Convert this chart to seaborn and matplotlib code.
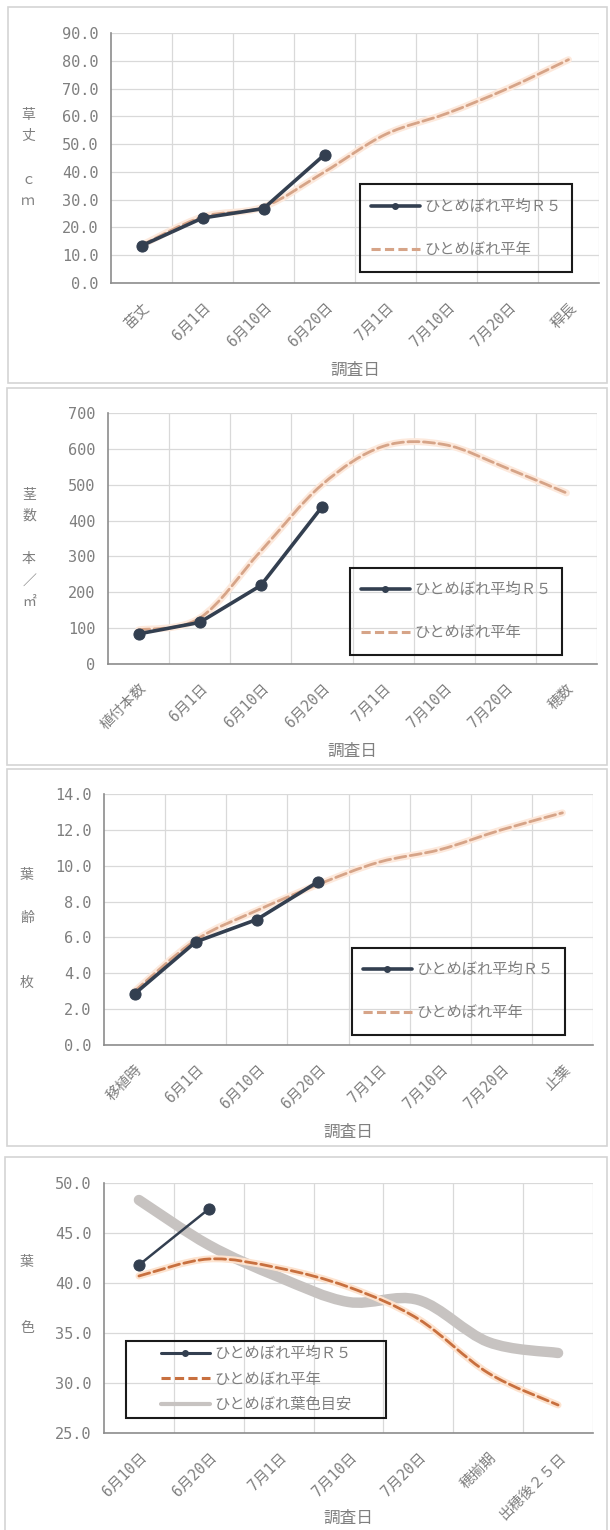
import numpy as np
import pandas as pd
import matplotlib
matplotlib.use('Agg')
import matplotlib.pyplot as plt
import seaborn as sns
from matplotlib.path import Path
from matplotlib.patches import PathPatch, Rectangle
from matplotlib.lines import Line2D

# ---- data ----
cats1 = ['苗丈', '6月1日', '6月10日', '6月20日', '7月1日', '7月10日', '7月20日', '稈長']
r5_1 = [13.4, 23.4, 26.8, 46.2]
avg_1 = [13.6, 23.8, 27.4, 40.0, 53.5, 61.0, 70.0, 80.4]

cats2 = ['植付本数', '6月1日', '6月10日', '6月20日', '7月1日', '7月10日', '7月20日', '穂数']
r5_2 = [84, 116, 219, 438]
avg_2 = [95, 128, 315, 500, 607, 612, 548, 477]

cats3 = ['移植時', '6月1日', '6月10日', '6月20日', '7月1日', '7月10日', '7月20日', '止葉']
r5_3 = [2.85, 5.75, 7.0, 9.1]
avg_3 = [3.0, 5.85, 7.5, 8.95, 10.2, 10.9, 12.0, 12.95]

cats4 = ['6月10日', '6月20日', '7月1日', '7月10日', '7月20日', '穂揃期', '出穂後２５日']
r5_4 = [41.8, 47.4]
avg_4 = [40.7, 42.4, 41.5, 39.6, 36.4, 31.0, 27.8]
guide_4 = [48.3, 43.8, 40.6, 38.1, 38.3, 34.1, 33.0]

lab_r5 = 'ひとめぼれ平均Ｒ５'
lab_avg = 'ひとめぼれ平年'
lab_guide = 'ひとめぼれ葉色目安'

sns.set_theme(style='white')
plt.rcParams['font.family'] = ['Noto Sans CJK JP', 'DejaVu Sans']

NAVY = '#333f50'
TXT = '#7f7f7f'
GRID = '#d9d9d9'
W, H = 610, 1530

fig = plt.figure(figsize=(6.1, 15.3), dpi=100)


def fx(x):
    return x / W


def fy(y):
    return 1 - y / H


def smooth(ax, xs, ys, **kw):
    # excel-like smoothed line (bezier through the points)
    p = np.column_stack([xs, ys]).astype(float)
    verts = [p[0]]
    codes = [Path.MOVETO]
    for i in range(len(p) - 1):
        p0 = p[i - 1] if i > 0 else p[i]
        p3 = p[i + 2] if i + 2 < len(p) else p[i + 1]
        verts += [p[i] + (p[i + 1] - p0) / 6, p[i + 1] - (p3 - p[i]) / 6, p[i + 1]]
        codes += [Path.CURVE4] * 3
    ax.add_patch(PathPatch(Path(verts, codes), fill=False, capstyle='round', **kw))


panels = [
    dict(box=(8, 7, 607, 383), ax=(111, 33, 599, 283), cats=cats1, r5=r5_1, avg=avg_1,
         ylim=(0, 90), step=10, fmt='%.1f', ylab='草\n丈\n\nｃ\nｍ', ylab_xy=(28, 158),
         leg=(466, 228), legbox=(212, 87), title_y=370),
    dict(box=(7, 388, 607, 765), ax=(108, 413, 597, 664), cats=cats2, r5=r5_2, avg=avg_2,
         ylim=(0, 700), step=100, fmt='%d', ylab='茎\n数\n\n本\n／\n㎡', ylab_xy=(29, 548),
         leg=(456, 611), legbox=(212, 87), title_y=751),
    dict(box=(7, 769, 607, 1146), ax=(104, 794, 593, 1045), cats=cats3, r5=r5_3, avg=avg_3,
         ylim=(0, 14), step=2, fmt='%.1f', ylab='葉\n\n齢\n\n\n枚', ylab_xy=(27, 929),
         leg=(458, 991), legbox=(213, 87), title_y=1132),
    dict(box=(5, 1157, 607, 1535), ax=(104, 1183, 593, 1433), cats=cats4, r5=r5_4, avg=avg_4,
         ylim=(25, 50), step=5, fmt='%.1f', ylab='葉\n\n\n色', ylab_xy=(27, 1295),
         leg=(256, 1379), legbox=(260, 77), title_y=1518, guide=guide_4),
]

for k, pnl in enumerate(panels):
    bx0, by0, bx1, by1 = pnl['box']
    fig.patches.append(Rectangle((fx(bx0), fy(by1)), (bx1 - bx0) / W, (by1 - by0) / H,
                                 transform=fig.transFigure, fill=False, ec='#d4d4d4', lw=1.2))
    l, t, r, b = pnl['ax']
    ax = fig.add_axes([fx(l), fy(b), (r - l) / W, (b - t) / H])
    n = len(pnl['cats'])
    xs = np.arange(n)
    last = k == 3

    if 'guide' in pnl:
        smooth(ax, xs, pnl['guide'], ec='#c7c3c1', lw=7.5, zorder=2)
    dash_c = '#c8703f' if last else '#d6a488'
    glow_c = '#fde3cf' if last else '#fde9dc'
    smooth(ax, xs, pnl['avg'], ec=glow_c, lw=5, zorder=2.2)
    smooth(ax, xs, pnl['avg'], ec=dash_c, lw=2, linestyle=(0, (4, 1.6)), zorder=2.4)

    df = pd.DataFrame({'x': xs[:len(pnl['r5'])], 'y': pnl['r5']})
    sns.lineplot(data=df, x='x', y='y', ax=ax, color=NAVY, lw=1.8 if last else 2.6,
                 marker='o', markersize=8, markeredgecolor=NAVY, legend=False, zorder=3)

    ax.set_xlim(-0.5, n - 0.5)
    ax.set_ylim(*pnl['ylim'])
    ax.set_yticks(np.arange(pnl['ylim'][0], pnl['ylim'][1] + pnl['step'] / 2, pnl['step']))
    ax.yaxis.set_major_formatter(matplotlib.ticker.FormatStrFormatter(pnl['fmt']))
    ax.set_xticks(xs)
    ax.set_xticklabels(pnl['cats'], rotation=45, ha='right', va='top', rotation_mode='anchor')
    ax.set_xticks(np.arange(0.5, n, 1), minor=True)
    ax.grid(which='minor', axis='x', color=GRID, lw=0.9)
    ax.grid(which='major', axis='y', color=GRID, lw=0.9)
    ax.grid(which='major', axis='x', visible=False)
    ax.tick_params(which='both', length=0)
    ax.tick_params(axis='y', pad=9, labelsize=11, labelcolor=TXT)
    ax.tick_params(axis='x', pad=12, labelsize=10.5, labelcolor=TXT)
    for lab in ax.get_yticklabels():
        lab.set_family(['DejaVu Sans Mono', 'Noto Sans CJK JP'])
    for lab in ax.get_xticklabels():
        lab.set_family(['DejaVu Sans Mono', 'Noto Sans CJK JP'])
    for s in ['top', 'right']:
        ax.spines[s].set_visible(False)
    for s in ['left', 'bottom']:
        ax.spines[s].set_color('#8c8c8c')
        ax.spines[s].set_linewidth(1.2)
    ax.set_xlabel('')
    ax.set_ylabel('')
    ax.set_facecolor('none')

    fig.text(fx((l + r) / 2), fy(pnl['title_y']), '調査日', ha='center', va='center',
             fontsize=12, color=TXT)
    fig.text(fx(pnl['ylab_xy'][0]), fy(pnl['ylab_xy'][1]), pnl['ylab'], ha='center',
             va='center', fontsize=10, color=TXT, linespacing=1.7)

    handles = [Line2D([], [], color=NAVY, lw=2.6 if not last else 2.2, marker='o', ms=4),
               Line2D([], [], color=dash_c, lw=2.2, ls=(0, (3, 1.4)))]
    labels = [lab_r5, lab_avg]
    if last:
        handles.append(Line2D([], [], color='#c7c3c1', lw=3))
        labels.append(lab_guide)
    cx, cy = pnl['leg']
    ax.legend(handles, labels, loc='center', bbox_to_anchor=(fx(cx), fy(cy)),
              bbox_transform=fig.transFigure, frameon=False, fontsize=11,
              labelcolor=TXT, handlelength=3.2, handletextpad=0.3,
              labelspacing=0.55 if last else 1.7)
    lw_, lh_ = pnl['legbox']
    fig.patches.append(Rectangle((fx(cx - lw_ / 2), fy(cy + lh_ / 2)), lw_ / W, lh_ / H,
                                 transform=fig.transFigure, fill=False, ec='#1a1a1a', lw=1.5,
                                 zorder=5))

fig.savefig('out.png', dpi=100, facecolor='white')
